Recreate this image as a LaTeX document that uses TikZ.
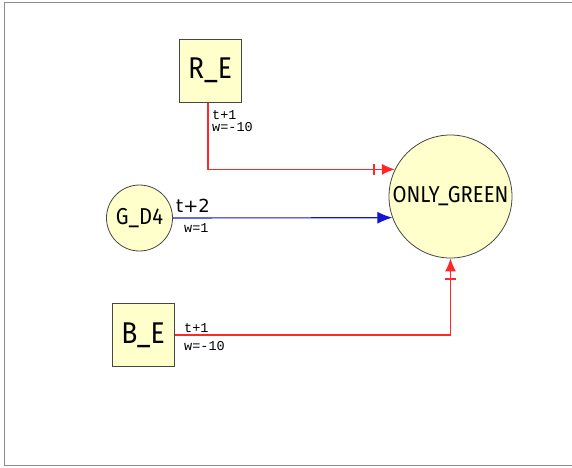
\documentclass[tikz,border=0pt]{standalone}
\usepackage{fontspec}
\setmainfont{Fira Sans}[FakeStretch=0.88]
\newfontfamily\monof{Liberation Mono}
\newfontfamily\lblf{DejaVu Sans}
\usetikzlibrary{arrows.meta}
\definecolor{nodefill}{RGB}{255,255,204}
\definecolor{nodeline}{RGB}{70,70,70}
\definecolor{inhred}{RGB}{255,40,40}
\definecolor{actblue}{RGB}{20,20,210}
\definecolor{framegray}{RGB}{140,140,140}
\tikzset{
  x=1pt, y=-1pt,
  boxnode/.style={draw=nodeline, fill=nodefill, line width=1pt, rectangle, minimum width=62pt, minimum height=63pt, inner sep=0pt, font=\fontsize{30}{30}\selectfont},
  circnode/.style={draw=nodeline, fill=nodefill, line width=0.8pt, circle, inner sep=0pt, font=\fontsize{23}{23}\selectfont},
  inhib/.style={draw=inhred, line width=1.1pt, -{Bar[width=11pt,line width=1.4pt,sep=7pt]Latex[length=13pt,width=11pt]}},
  activ/.style={draw=actblue, line width=1.1pt, -{Latex[length=15pt,width=12pt]}},
  smalllbl/.style={font=\monof\fontsize{13.5}{13.5}\selectfont, inner sep=0pt, anchor=base west},
  biglbl/.style={font=\lblf\fontsize{18}{18}\selectfont, inner sep=0pt, anchor=base west}
}
\begin{document}
\begin{tikzpicture}
\useasboundingbox (0,0) rectangle (572,467);
\draw[framegray, line width=1.5pt] (572,2.5) -- (4.5,2.5) -- (4.5,465.5) -- (572,465.5);
\node[boxnode] (re) at (210,70.5) {R\_E};
\node[boxnode] (be) at (143,335) {B\_E};
\node[circnode, minimum size=66pt] (gd) at (139.5,218) {G\_D4};
\node[circnode, minimum size=123pt] (og) at (450.5,196.5) {ONLY\_GREEN};
\draw[inhib] (re.south -| 208,0) |- (og.154.5);
\draw[activ] (gd.east) -- (og.200.5);
\draw[inhib] (be.east) -| (og.south);
\node[smalllbl] (l1) at (212,119) {t+1};
\node[smalllbl] (l2) at (212,131) {w=-10};
\node[biglbl] (l3) at (176,212) {t+2};
\node[smalllbl] (l4) at (184,232) {w=1};
\node[smalllbl] (l5) at (184,332) {t+1};
\node[smalllbl] (l6) at (184,350) {w=-10};
\end{tikzpicture}
\end{document}
